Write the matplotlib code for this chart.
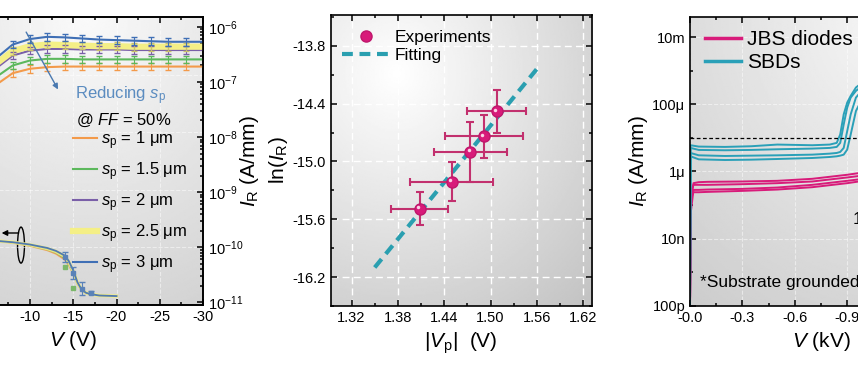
import numpy as np
import matplotlib
matplotlib.use("Agg")
import matplotlib.pyplot as plt
import matplotlib.transforms as mtransforms
from matplotlib.patches import Ellipse
from matplotlib.ticker import MultipleLocator, FormatStrFormatter, FixedLocator, FixedFormatter, NullFormatter

plt.rcParams['font.family'] = ['Liberation Sans', 'DejaVu Sans']
plt.rcParams['mathtext.fontset'] = 'custom'
plt.rcParams['mathtext.rm'] = 'Liberation Sans'
plt.rcParams['mathtext.it'] = 'Liberation Sans:italic'
plt.rcParams['axes.unicode_minus'] = False
plt.rcParams['xtick.direction'] = 'in'
plt.rcParams['ytick.direction'] = 'in'
plt.rcParams['axes.linewidth'] = 1.2

# ---- panel a : I_R vs V for different s_p (log10 values, right axis)
v_a = [0, -2, -4, -6, -8, -10, -12, -14, -16, -18, -20, -22, -24, -26, -28, -30]
sp_labels = ['$s_\\mathrm{p}$ = 1 μm', '$s_\\mathrm{p}$ = 1.5 μm', '$s_\\mathrm{p}$ = 2 μm',
             '$s_\\mathrm{p}$ = 2.5 μm', '$s_\\mathrm{p}$ = 3 μm']
ir_sp1 = [-8.10, -7.70, -7.35, -7.06, -6.84, -6.76, -6.73, -6.72, -6.72, -6.72, -6.72, -6.72, -6.72, -6.72, -6.72, -6.72]
ir_sp15 = [-7.95, -7.55, -7.20, -6.92, -6.70, -6.61, -6.58, -6.58, -6.59, -6.59, -6.59, -6.59, -6.59, -6.59, -6.59, -6.59]
ir_sp2 = [-7.78, -7.38, -7.03, -6.76, -6.52, -6.43, -6.40, -6.40, -6.41, -6.41, -6.41, -6.42, -6.42, -6.42, -6.42, -6.42]
ir_sp25 = [-7.70, -7.30, -6.95, -6.68, -6.44, -6.35, -6.32, -6.33, -6.34, -6.35, -6.35, -6.36, -6.36, -6.36, -6.36, -6.36]
ir_sp3 = [-7.60, -7.20, -6.85, -6.58, -6.32, -6.22, -6.18, -6.19, -6.21, -6.23, -6.24, -6.25, -6.26, -6.27, -6.27, -6.27]
err_dec = 0.07

# lower curves (left axis, arbitrary linear units)
v_low = [0, -4, -8, -10, -12, -13, -14, -14.5, -15, -15.5, -16, -16.5, -17, -18, -20]
low_sp1 = [2.35, 2.28, 2.16, 2.05, 1.90, 1.78, 1.58, 1.38, 1.08, 0.72, 0.50, 0.41, 0.37, 0.33, 0.31]
low_sp15 = [2.35, 2.28, 2.17, 2.07, 1.93, 1.82, 1.63, 1.43, 1.12, 0.74, 0.51, 0.41, 0.37, 0.33, 0.31]
low_sp2 = [2.35, 2.28, 2.17, 2.08, 1.95, 1.85, 1.67, 1.47, 1.15, 0.76, 0.51, 0.42, 0.38, 0.33, 0.31]
low_sp25 = [2.35, 2.28, 2.18, 2.09, 1.96, 1.86, 1.69, 1.49, 1.17, 0.77, 0.52, 0.42, 0.38, 0.33, 0.31]
low_sp3 = [2.35, 2.28, 2.18, 2.10, 1.98, 1.88, 1.72, 1.52, 1.20, 0.78, 0.52, 0.42, 0.38, 0.33, 0.31]
low_err_v = [-14, -15, -16, -17]
low_err_y = [1.68, 1.11, 0.57, 0.42]
low_err = [0.17, 0.20, 0.23, 0.05]

# ---- panel b : ln(I_R) vs |V_p|
vp = [1.4085, 1.4495, 1.474, 1.4914, 1.5078]
ln_ir = [-15.49, -15.21, -14.90, -14.74, -14.48]
vp_err = [0.037, 0.054, 0.047, 0.050, 0.038]
ln_err = [0.17, 0.20, 0.31, 0.22, 0.22]
fit_x = [1.350, 1.562]
fit_y = [-16.10, -14.02]

# ---- panel c : I_R vs V (kV), log10 values
v_jbs = [0, -0.005, -0.02, -0.05, -0.1, -0.3, -0.5, -0.7, -0.9, -1.1, -1.3, -1.5]
jbs_1 = [-10, -6.90, -6.35, -6.32, -6.31, -6.30, -6.28, -6.22, -6.10, -5.95, -5.80, -5.65]
jbs_2 = [-10, -6.60, -6.40, -6.40, -6.40, -6.38, -6.35, -6.30, -6.18, -6.05, -5.90, -5.75]
jbs_3 = [-10, -7.20, -6.55, -6.55, -6.54, -6.52, -6.48, -6.40, -6.28, -6.15, -6.00, -5.85]
jbs_4 = [-10, -6.80, -6.62, -6.62, -6.61, -6.58, -6.54, -6.47, -6.35, -6.20, -6.05, -5.90]
v_sbd = [0, -0.003, -0.05, -0.2, -0.35, -0.5, -0.7, -0.8, -0.84, -0.86, -0.88, -0.9, -0.92, -0.95, -1.0, -1.2, -1.5]
sbd_1 = [-10, -5.22, -5.26, -5.27, -5.25, -5.20, -5.22, -5.20, -5.15, -4.90, -4.30, -3.95, -3.75, -3.50, -3.30, -3.10, -2.90]
sbd_2 = [-10, -5.30, -5.36, -5.37, -5.36, -5.34, -5.32, -5.30, -5.27, -5.15, -4.60, -4.10, -3.80, -3.60, -3.40, -3.15, -2.95]
sbd_3 = [-10, -5.45, -5.52, -5.54, -5.53, -5.52, -5.50, -5.47, -5.45, -5.42, -5.30, -4.80, -4.30, -3.80, -3.50, -3.20, -3.00]
sbd_4 = [-10, -5.55, -5.64, -5.66, -5.65, -5.63, -5.60, -5.57, -5.55, -5.53, -5.50, -5.35, -4.90, -4.20, -3.70, -3.30, -3.05]

W, H = 858, 367
fig = plt.figure(figsize=(W / 100, H / 100), dpi=100)


def rect(l, r, t, b):
    return [l / W, 1 - b / H, (r - l) / W, (b - t) / H]


def add_bg(r, cx, cy, lo, hi):
    bg = fig.add_axes(r, zorder=-5)
    bg.axis('off')
    yy, xx = np.mgrid[0:1:200j, 0:1:200j]
    d = np.hypot(xx - cx, yy - cy)
    img = hi - (hi - lo) * d / d.max()
    bg.imshow(img, cmap='gray', vmin=0, vmax=1, extent=(0, 1, 0, 1), origin='lower', aspect='auto')


def style(ax):
    ax.tick_params(which='both', top=True, right=True, labelsize=10.5, width=1.1)
    ax.tick_params(which='major', length=4)
    ax.tick_params(which='minor', length=2.5)
    ax.set_facecolor('none')


# ================= panel a
ra = rect(-56.5, 203, 17, 305)
add_bg(ra, 0.55, 1.0, 0.82, 0.98)
ax1 = fig.add_axes(ra)
style(ax1)
ax1.tick_params(right=False)
ax1r = ax1.twinx()
ax1r.set_facecolor('none')
cols = ['#f39a4a', '#5cb85c', '#7a5fa8', '#f4ef86', '#3f6fb5']
lws = [1.5, 1.5, 1.5, 4.5, 1.5]
ups = [ir_sp1, ir_sp15, ir_sp2, ir_sp25, ir_sp3]
lows = [low_sp1, low_sp15, low_sp2, low_sp25, low_sp3]
handles = []
for up, low, c, lw, lab in zip(ups, lows, cols, lws, sp_labels):
    y = 10 ** np.array(up)
    h, = ax1r.plot(v_a, y, color=c, lw=lw, label=lab, zorder=2)
    handles.append(h)
    ye = y[4:15]
    ax1r.errorbar(v_a[4:15], ye, yerr=[ye - ye / 10 ** err_dec, ye * 10 ** err_dec - ye],
                  fmt='none', ecolor=c if c != '#f4ef86' else '#c9c26a', elinewidth=0.8, capsize=2, zorder=3)
    ax1.plot(v_low, low, color=c, lw=1.3 if lw < 3 else 2.5, alpha=0.9)
ax1.errorbar(low_err_v, low_err_y, yerr=low_err, fmt='s', ms=2.5, color='#5a82b8', elinewidth=0.8, capsize=2)
ax1.plot([-14, -15], [1.33, 0.59], 's', ms=2.5, color='#7cb86a')
ax1.set_xlim(0, -30)
ax1.set_ylim(0, 10)
ax1r.set_yscale('log')
ax1r.set_ylim(10 ** -11.05, 10 ** -5.82)
ax1.xaxis.set_major_locator(MultipleLocator(5))
ax1.xaxis.set_minor_locator(MultipleLocator(2.5))
ax1.xaxis.set_major_formatter(FormatStrFormatter('%d'))
ax1r.tick_params(which='both', labelsize=10.5, width=1.1)
ax1r.tick_params(which='major', length=4)
ax1r.tick_params(which='minor', length=2)
ax1.set_xlabel('$V$ (V)', fontsize=15, labelpad=4)
ax1r.set_ylabel('$I_\\mathrm{R}$ (A/mm)', fontsize=15)
ax1r.yaxis.set_label_coords(1.135, 0.5)
ax1.add_patch(Ellipse((-8.96, 2.08), 0.8, 1.25, fc='none', ec='k', lw=1))
ax1.annotate('', xy=(-6.4, 2.5), xytext=(-9.0, 2.5),
             arrowprops=dict(arrowstyle='-|>', color='k', lw=1, mutation_scale=8))
ax1r.annotate('', xy=(-13.4, 10 ** -7.18), xytext=(-9.4, 10 ** -6.05),
              arrowprops=dict(arrowstyle='-|>', color='#4a79b0', lw=1, mutation_scale=8))
ax1r.text(0.505, 0.726, 'Reducing $s_\\mathrm{p}$', transform=ax1r.transAxes,
          fontsize=12, color='#5b8cc0', va='center')
ax1r.text(0.51, 0.642, '@ $FF$ = 50%', transform=ax1r.transAxes, fontsize=12, va='center')
ax1r.legend(handles=handles, loc='upper left', bbox_to_anchor=(0.499, 0.61), frameon=False,
            fontsize=12, borderpad=0, borderaxespad=0, handlelength=1.45, handletextpad=0.25,
            labelspacing=0.5)
ax1.grid(True, color='white', ls='--', lw=0.8, alpha=0.5)

# ================= panel b
rb = rect(330.7, 591.7, 15, 306)
add_bg(rb, 0.25, 0.8, 0.76, 1.0)
ax2 = fig.add_axes(rb)
style(ax2)
ax2.grid(True, color='white', ls=(0, (5, 3)), lw=1.0)
ax2.set_axisbelow(True)
ax2.plot(fit_x, fit_y, color='#2a9fb0', lw=3, ls=(0, (2.6, 1.6)), label='Fitting', zorder=2)
ax2.errorbar(vp, ln_ir, xerr=vp_err, yerr=ln_err, fmt='none', ecolor='#c2306e',
             elinewidth=1.5, capsize=3, capthick=1.5, zorder=3)
ax2.plot(vp, ln_ir, 'o', ms=8, color='#d81b7a', mec='#c0176c', label='Experiments', zorder=4)
off = mtransforms.ScaledTranslation(-1.5 / 100, 1.5 / 100, fig.dpi_scale_trans)
ax2.plot(vp, ln_ir, 'o', ms=2.5, color='#fbd3e6', mec='none', transform=ax2.transData + off, zorder=5)
ax2.set_xlim(1.293, 1.631)
ax2.set_ylim(-16.5, -13.48)
ax2.xaxis.set_major_locator(FixedLocator([1.32, 1.38, 1.44, 1.50, 1.56, 1.62]))
ax2.xaxis.set_minor_locator(FixedLocator([1.35, 1.41, 1.47, 1.53, 1.59]))
ax2.xaxis.set_major_formatter(FormatStrFormatter('%.2f'))
ax2.yaxis.set_major_locator(FixedLocator([-16.2, -15.6, -15.0, -14.4, -13.8]))
ax2.yaxis.set_minor_locator(FixedLocator([-16.5, -15.9, -15.3, -14.7, -14.1, -13.5]))
ax2.yaxis.set_major_formatter(FormatStrFormatter('%.1f'))
ax2.set_xlabel('|$V_\\mathrm{p}$|  (V)', fontsize=15, labelpad=4)
ax2.set_ylabel('ln($I_\\mathrm{R}$)', fontsize=15)
ax2.yaxis.set_label_coords(-0.156, 0.5)
h2, l2 = ax2.get_legend_handles_labels()
ax2.legend([h2[1], h2[0]], [l2[1], l2[0]], loc='upper left', bbox_to_anchor=(0.043, 0.95),
           frameon=False, fontsize=12.5, borderpad=0, borderaxespad=0, handlelength=2.75,
           handletextpad=0.3, labelspacing=0.2)

# ================= panel c
rc = rect(690, 952, 17, 305.7)
add_bg(rc, 0.8, 1.0, 0.8, 0.97)
ax3 = fig.add_axes(rc)
style(ax3)
ax3.grid(True, color='white', ls='--', lw=0.8, alpha=0.5)
for j in [jbs_4, jbs_3, jbs_2, jbs_1]:
    ax3.plot(v_jbs, 10 ** np.array(j), color='#d81b7a', lw=1.4)
for s in [sbd_4, sbd_3, sbd_2, sbd_1]:
    ax3.plot(v_sbd, 10 ** np.array(s), color='#2aa0b8', lw=1.4)
ax3.axhline(1e-5, color='k', lw=0.9, ls=(0, (3, 2)))
ax3.set_yscale('log')
ax3.set_xlim(0, -1.5)
ax3.set_ylim(1e-10, 10 ** -1.4)
ax3.xaxis.set_major_locator(MultipleLocator(0.3))
ax3.xaxis.set_minor_locator(MultipleLocator(0.15))
ax3.xaxis.set_major_formatter(FormatStrFormatter('%.1f'))
ax3.yaxis.set_major_locator(FixedLocator([1e-10, 1e-8, 1e-6, 1e-4, 1e-2]))
ax3.yaxis.set_major_formatter(FixedFormatter(['100p', '10n', '1μ', '100μ', '10m']))
ax3.yaxis.set_minor_locator(FixedLocator([1e-9, 1e-7, 1e-5, 1e-3]))
ax3.yaxis.set_minor_formatter(NullFormatter())
ax3.set_xlabel('$V$ (kV)', fontsize=15, labelpad=4)
ax3.set_ylabel('$I_\\mathrm{R}$ (A/mm)', fontsize=15)
ax3.yaxis.set_label_coords(-0.153, 0.5)
ax3.plot([], [], color='#d81b7a', lw=2.5, label='JBS diodes')
ax3.plot([], [], color='#2aa0b8', lw=2.5, label='SBDs')
ax3.legend(loc='upper left', bbox_to_anchor=(0.057, 0.955), frameon=False, fontsize=15,
           borderpad=0, borderaxespad=0, handlelength=1.75, handletextpad=0.25, labelspacing=0.2)
ax3.text(0.038, 0.079, '*Substrate grounded', transform=ax3.transAxes, fontsize=12.5, va='center')
ax3.text(0.62, 0.30, '1', transform=ax3.transAxes, fontsize=12.5, va='center')

fig.savefig('out.png', dpi=100)
